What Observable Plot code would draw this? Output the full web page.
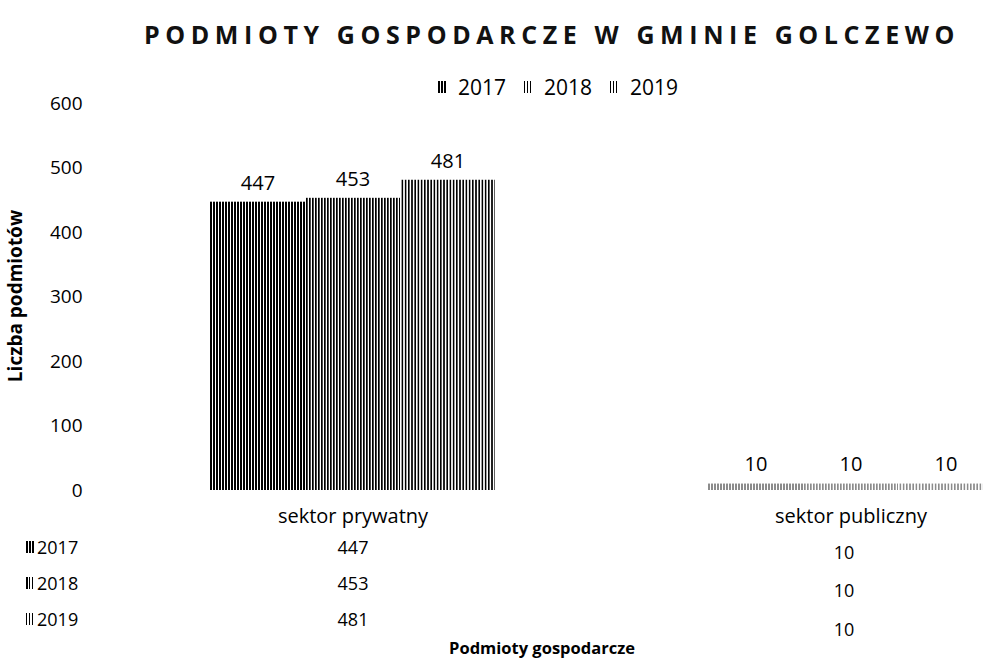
<!DOCTYPE html>
<html><head><meta charset="utf-8">
<script src="https://cdn.jsdelivr.net/npm/d3@7"></script>
<script src="https://cdn.jsdelivr.net/npm/@observablehq/plot@0.6"></script>
<style>
body{margin:0;background:#fff;font-family:"Open Sans",sans-serif;color:#000}
#wrap{position:relative;width:983px;height:660px;overflow:hidden}
#wrap svg{position:absolute;left:0;top:0}
.abs{position:absolute;white-space:nowrap}
#title{left:0;width:1104px;top:17px;text-align:center;font-weight:700;font-size:25px;letter-spacing:5.6px;color:#111}
#legend{top:73px;left:438px;font-size:21px;display:flex;gap:18px;align-items:center}
.item{display:flex;align-items:center;gap:12px}
.sw{display:inline-block;width:8px;height:12px}
.row{left:26px;font-size:18px;display:flex;align-items:center;gap:3px}
#ylab{left:15px;top:296px;transform:translate(-50%,-50%) rotate(-90deg);font-weight:700;font-size:19px}
#xlab{left:542px;top:636px;transform:translateX(-50%);font-weight:700;font-size:16.5px}
</style></head>
<body><div id="wrap"></div>
<script>
const title = "PODMIOTY GOSPODARCZE W GMINIE GOLCZEWO";
const sectors = ["sektor prywatny", "sektor publiczny"];
const years = ["2017", "2018", "2019"];
const privateValues = [447, 453, 481];
const publicValues = [10, 10, 10];
const yTicks = [0, 100, 200, 300, 400, 500, 600];
const yLabel = "Liczba podmiotów";
const xLabel = "Podmioty gospodarcze";

const data = [];
years.forEach((y, i) => {
  data.push({sector: sectors[0], year: y, value: privateValues[i]});
  data.push({sector: sectors[1], year: y, value: publicValues[i]});
});

const pat = y => `url(#p${y})`;
const swatchBg = {
  "2017": "repeating-linear-gradient(90deg,#000 0 2px,#fff 2px 3px)",
  "2018": "repeating-linear-gradient(90deg,#000 0 1.5px,#fff 1.5px 3px)",
  "2019": "repeating-linear-gradient(90deg,#000 0 1px,#fff 1px 3px)"
};

const marks = [];
years.forEach(y => {
  marks.push(Plot.barY(data.filter(d => d.year === y), {
    fx: "sector", x: "year", y: "value", fill: pat(y),
    fillOpacity: d => d.sector === sectors[1] ? 0.45 : 1
  }));
});
marks.push(Plot.text(data, {fx: "sector", x: "year", y: "value", text: d => String(d.value), dy: -19, fontSize: 20}));
// data table rows below the axis
years.forEach((y, i) => {
  marks.push(Plot.text(data.filter(d => d.year === y && d.sector === sectors[0]), {fx: "sector", text: d => String(d.value), frameAnchor: "bottom", dy: 63 + 36 * i, fontSize: 18}));
  marks.push(Plot.text(data.filter(d => d.year === y && d.sector === sectors[1]), {fx: "sector", text: d => String(d.value), frameAnchor: "bottom", dx: -7, dy: 68 + 38.5 * i, fontSize: 18}));
});
marks.push(Plot.axisY({ticks: yTicks, tickSize: 0, tickPadding: 128, label: null, fontSize: 19}));
marks.push(Plot.axisFx({anchor: "bottom", tickSize: 0, tickPadding: 18, label: null, fontSize: 20}));

const chart = Plot.plot({
  width: 983, height: 660,
  marginTop: 103, marginBottom: 170, marginLeft: 90, marginRight: 0,
  style: {fontFamily: "Open Sans", fontSize: "17px", color: "#000", background: "transparent", overflow: "hidden"},
  fx: {domain: sectors, range: [103, 1099], paddingInner: 0.428, paddingOuter: 0.214},
  x: {domain: years, padding: 0, axis: null},
  y: {domain: [0, 600]},
  marks
});

const defs = d3.select(chart).insert("defs", ":first-child");
const widths = {"2017": [3, 2], "2018": [3, 1.7], "2019": [3.2, 1.6]};
years.forEach(y => {
  const [w, b] = widths[y];
  const p = defs.append("pattern").attr("id", "p" + y).attr("patternUnits", "userSpaceOnUse").attr("width", w).attr("height", 40);
  p.append("rect").attr("width", w).attr("height", 40).attr("fill", "#fff");
  p.append("rect").attr("width", b).attr("height", 40).attr("fill", "#000");
});

const wrap = document.getElementById("wrap");
wrap.appendChild(chart);

function add(html, cls, id) {
  const d = document.createElement("div");
  d.className = "abs " + (cls || "");
  if (id) d.id = id;
  d.innerHTML = html;
  wrap.appendChild(d);
  return d;
}
add(title, "", "title");
add(years.map(y => `<span class="item"><span class="sw" style="background:${swatchBg[y]}"></span>${y}</span>`).join(""), "", "legend");
years.forEach((y, i) => {
  const r = add(`<span class="sw" style="background:${swatchBg[y]}"></span>${y}`, "row");
  r.style.top = (535 + 36 * i) + "px";
});
add(yLabel, "", "ylab");
add(xLabel, "", "xlab");
</script>
</body></html>
